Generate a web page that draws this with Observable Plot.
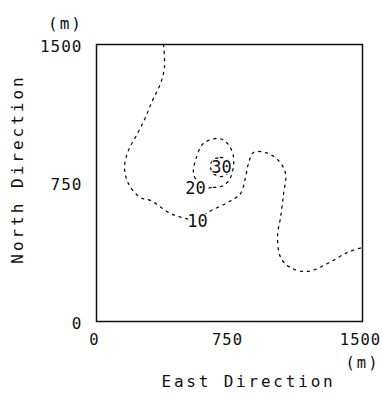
<!DOCTYPE html>
<html>
<head>
<meta charset="utf-8">
<script src="https://cdn.jsdelivr.net/npm/d3@7"></script>
<script src="https://cdn.jsdelivr.net/npm/@observablehq/plot@0.6"></script>
<style>
  html, body { margin: 0; padding: 0; background: #fff; }
  #chart svg { display: block; }
</style>
</head>
<body>
<div id="chart"></div>
<script>
// Contour 10 (open line crossing the domain), metres
const c10East  = [378, 383, 361, 316, 276, 231, 180, 158, 180, 248, 305, 417, 502, 570, 626, 739, 812, 840, 857, 885, 953, 1026, 1066, 1055, 1038, 1021, 1038, 1094, 1190, 1303, 1415, 1500];
const c10North = [1500, 1375, 1289, 1197, 1105, 1018, 926, 834, 747, 671, 655, 585, 558, 547, 590, 644, 693, 780, 856, 915, 915, 872, 801, 693, 563, 466, 347, 292, 271, 314, 374, 401];
// Contour 20 (closed loop)
const c20East  = [586, 660, 716, 756, 773, 739, 688, 603, 558, 547, 570];
const c20North = [726, 726, 736, 780, 888, 964, 991, 964, 872, 801, 753];
// Contour 30 (small closed loop)
const c30East  = [654, 699, 744, 750, 733, 694, 654, 643];
const c30North = [872, 888, 872, 828, 796, 785, 807, 839];
// Contour labels
const labelText  = ["10", "20", "30"];
const labelEast  = [570, 558, 705];
const labelNorth = [541, 720, 834];
// Axis ticks
const tickValues = [0, 750, 1500];
const tickLabels = ["0", "750", "1500"];

const toRows = (xs, ys) => xs.map((x, i) => ({x, y: ys[i]}));
const c10 = toRows(c10East, c10North);
const c20 = toRows(c20East, c20North);
const c30 = toRows(c30East, c30North);
const labels = labelText.map((t, i) => ({t, x: labelEast[i], y: labelNorth[i]}));
const ticks = tickValues.map((v, i) => ({v, t: tickLabels[i]}));

const font = "'DejaVu Sans Mono', 'Liberation Mono', monospace";
const dash = {stroke: "#111", strokeWidth: 1.3, strokeDasharray: "2.2,4.8"};

const chart = Plot.plot({
  width: 382,
  height: 397,
  marginLeft: 96,
  marginRight: 20,
  marginTop: 44,
  marginBottom: 76,
  style: {background: "#fff", fontFamily: font, color: "#111"},
  x: {domain: [0, 1500], axis: null},
  y: {domain: [0, 1500], axis: null},
  marks: [
    Plot.line(c10, {x: "x", y: "y", curve: "catmull-rom", ...dash}),
    Plot.line(c20, {x: "x", y: "y", curve: "catmull-rom-closed", ...dash}),
    Plot.line(c30, {x: "x", y: "y", curve: "catmull-rom-closed", ...dash}),
    Plot.frame({stroke: "#111", strokeWidth: 1.5}),
    Plot.text(labels, {x: "x", y: "y", text: "t", fontSize: 17, fill: "#111", stroke: "#fff", strokeWidth: 2, paintOrder: "stroke"}),
    Plot.text(ticks, {x: "v", text: "t", frameAnchor: "bottom", dx: -2, dy: 23, fontSize: 15.5, fill: "#111"}),
    Plot.text(ticks, {y: "v", text: "t", frameAnchor: "left", dx: -14, dy: 2, textAnchor: "end", fontSize: 16, fill: "#111"}),
    Plot.text(["(m)"], {frameAnchor: "bottom-right", dx: 0, dy: 46, textAnchor: "middle", fontSize: 15.5, fill: "#111"}),
    Plot.text(["(m)"], {frameAnchor: "top-left", dx: -31, dy: -27, textAnchor: "middle", fontSize: 16, fill: "#111"}),
    Plot.text(["East Direction"], {frameAnchor: "bottom", dx: 19, dy: 65, textAnchor: "middle", fontSize: 16, fill: "#111"}),
    Plot.text(["North Direction"], {frameAnchor: "left", dx: -79, dy: -14, textAnchor: "middle", rotate: -90, fontSize: 16, fill: "#111"})
  ]
});
// typewriter-like letter spacing
d3.select(chart).selectAll("text").each(function () {
  const t = this.textContent;
  const bottom = this.closest("g") && this.closest("g").getAttribute("transform");
  let s;
  if (t === "0" || t === "750" || t === "1500") s = 1;
  else if (t === "(m)") s = 2;
  else if (t === "East Direction") s = 2.8;
  else if (t === "North Direction") s = 3;
  if (s !== undefined) this.setAttribute("letter-spacing", s);
});
document.getElementById("chart").appendChild(chart);
</script>
</body>
</html>
